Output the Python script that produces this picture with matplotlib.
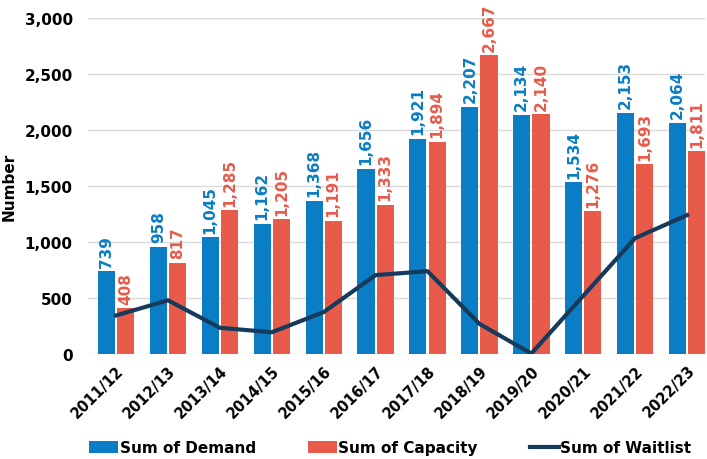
import numpy as np
import matplotlib
matplotlib.use('Agg')
import matplotlib.pyplot as plt
from matplotlib.ticker import FuncFormatter

# Yearly totals
years = ["2011/12", "2012/13", "2013/14", "2014/15", "2015/16", "2016/17",
         "2017/18", "2018/19", "2019/20", "2020/21", "2021/22", "2022/23"]
demand = [739, 958, 1045, 1162, 1368, 1656, 1921, 2207, 2134, 1534, 2153, 2064]
capacity = [408, 817, 1285, 1205, 1191, 1333, 1894, 2667, 2140, 1276, 1693, 1811]
waitlist = [345, 480, 235, 195, 375, 705, 740, 270, 5, 520, 1035, 1240]

BLUE = "#0a7dc4"
RED = "#e85b4b"
NAVY = "#163a5c"

plt.rcParams['font.family'] = ['DejaVu Sans']

fig = plt.figure(figsize=(7.07, 4.6), dpi=100)
ax = fig.add_axes([0.1245, 0.228, 0.873, 0.731])

x = np.arange(len(years))
w = 0.33
gap = 0.02
b1 = ax.bar(x - w / 2 - gap, demand, w, color=BLUE, label="Sum of Demand", zorder=2)
b2 = ax.bar(x + w / 2 + gap, capacity, w, color=RED, label="Sum of Capacity", zorder=2)
line, = ax.plot(x, waitlist, color=NAVY, lw=3, label="Sum of Waitlist", zorder=3)

# value labels above each bar
for bars, vals, col in ((b1, demand, BLUE), (b2, capacity, RED)):
    for rect, v in zip(bars, vals):
        ax.text(rect.get_x() + rect.get_width() / 2, v + 40, f"{v:,}",
                rotation=90, ha='center', va='bottom', color=col,
                fontsize=11, fontweight='bold', zorder=4)

ax.set_ylim(0, 3000)
ax.set_yticks(np.arange(0, 3001, 500))
ax.yaxis.set_major_formatter(FuncFormatter(lambda v, p: f"{int(v):,}"))
ax.set_xlim(-0.54, 11.35)
ax.set_xticks(x)
ax.set_xticklabels(years, rotation=45, ha='right', rotation_mode='anchor',
                   fontsize=10.5, fontweight='bold')
for lab in ax.get_yticklabels():
    lab.set_fontweight('bold')
    lab.set_fontsize(11)

ax.grid(axis='y', color='#d9d9d9', lw=1, zorder=0)
ax.tick_params(axis='y', length=0, pad=11)
ax.tick_params(axis='x', length=0, pad=6)
for s in ax.spines.values():
    s.set_visible(False)

ax.set_ylabel("Number", fontsize=11, fontweight='bold', labelpad=6)

ax.legend(handles=[b1, b2, line], loc='upper center', bbox_to_anchor=(0.49, -0.215),
          ncol=3, frameon=False, prop={'weight': 'bold', 'size': 11},
          handlelength=1.9, handleheight=0.8, handletextpad=0.1, columnspacing=3.4)

fig.savefig("out.png", dpi=100)
